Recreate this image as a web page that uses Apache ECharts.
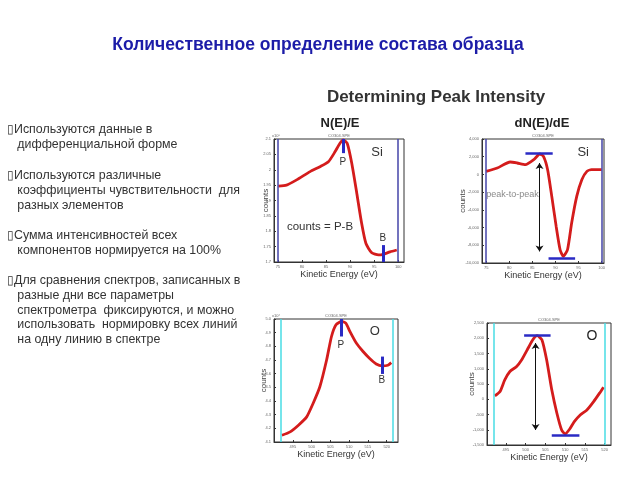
<!DOCTYPE html>
<html>
<head>
<meta charset="utf-8">
<script src="https://cdn.jsdelivr.net/npm/echarts@6/dist/echarts.min.js"></script>
<style>html,body{margin:0;padding:0;background:#fff}#c{width:640px;height:480px}</style>
</head>
<body>
<div id="c"></div>
<script>
// ---- Si N(E)/E ----
const siNE_energy = [75.1, 76.8, 78.9, 81.7, 83.75, 85.5, 86.9, 87.9, 88.6, 89.4, 90.35, 91.4, 92.4, 93.3, 94.5, 95.9, 96.9, 98.3, 99.7];
const siNE_counts = [1.947, 1.95, 1.967, 1.994, 2.01, 2.026, 2.059, 2.086, 2.097, 2.086, 2.021, 1.923, 1.826, 1.76, 1.73, 1.723, 1.725, 1.733, 1.739];
const siNE_edges = [75, 100];
const siNE_P = [88.5, 2.1, 2.054];
const siNE_B = [96.8, 1.755, 1.70];
const siNE_xTicks = [75, 80, 85, 90, 95, 100];

// ---- Si dN(E)/dE ----
const siDN_energy = [75, 77.4, 80.2, 81.7, 83.5, 85.3, 86.6, 87.4, 88.3, 89.2, 90.15, 91.0, 91.7, 92.6, 93.5, 94.6, 95.7, 96.8, 97.8, 100];
const siDN_counts = [342, 726, 1403, 1290, 1100, 1663, 2306, 2035, 534, -2480, -5868, -8500, -9250, -8500, -5480, -2480, -595, 342, 534, 534];
const siDN_edges = [75, 100];
const siDN_peakBar = [83.5, 89.4, 2420];
const siDN_valleyBar = [88.5, 94.25, -9435];
const siDN_arrow = [86.55, 1290, -8690];
const siDN_xTicks = [75, 80, 85, 90, 95, 100];

// ---- O N(E)/E ----
const oNE_energy = [492.1, 494.3, 496.5, 498.7, 500.4, 502.2, 504.0, 505.3, 506.5, 508.0, 509.1, 510.2, 511.9, 513.7, 515.4, 517.2, 518.8, 520.3, 521.2];
const oNE_counts = [4.149, 4.174, 4.223, 4.284, 4.382, 4.504, 4.70, 4.872, 4.958, 4.982, 4.97, 4.909, 4.824, 4.762, 4.713, 4.671, 4.657, 4.662, 4.681];
const oNE_edges = [491.8, 521.5];
const oNE_P = [507.8, 5.0, 4.872];
const oNE_B = [518.7, 4.725, 4.598];
const oNE_xTicks = [495, 500, 505, 510, 515, 520];

// ---- O dN(E)/dE ----
const oDN_energy = [492.2, 493.5, 494.7, 496.0, 497.7, 499.0, 500.4, 501.8, 502.9, 504.1, 505.3, 506.6, 507.9, 509.1, 510.0, 511.1, 512.3, 513.8, 515.5, 517.2, 518.7, 519.7];
const oDN_counts = [110, 252, 636, 910, 1074, 1294, 1622, 1951, 2083, 1951, 1294, 308, -458, -1007, -1138, -984, -734, -514, -350, -77, 200, 396];
const oDN_edges = [492.0, 520.1];
const oDN_peakBar = [499.6, 506.3, 2083];
const oDN_valleyBar = [506.6, 513.6, -1170];
const oDN_arrow = [502.5, 1843, -1007];
const oDN_xTicks = [495, 500, 505, 510, 515, 520];

const bullets = [
  '\u25AFИспользуются данные в\n   дифференциальной форме',
  '\u25AFИспользуются различные\n   коэффициенты чувствительности  для\n   разных элементов',
  '\u25AFСумма интенсивностей всех\n   компонентов нормируется на 100%',
  '\u25AFДля сравнения спектров, записанных в\n   разные дни все параметры\n   спектрометра  фиксируются, и можно\n   использовать  нормировку всех линий\n   на одну линию в спектре'
];

const FONT = '"Liberation Sans", Arial, sans-serif';
const RED = '#d41c1c';
const NAVY = '#4444a8';
const CYAN = '#48dce4';
const MARK = '#2a2ac4';

function zip(a, b) { return a.map((v, i) => [v, b[i]]); }

function xAx(i, min, max, ticks, gap) {
  return {
    type: 'value', gridIndex: i, min: min, max: max,
    axisLine: { show: true, onZero: false, lineStyle: { color: '#333', width: 1 } },
    axisTick: { show: true, inside: true, length: 2, customValues: ticks, lineStyle: { color: '#333' } },
    axisLabel: { fontSize: 4, color: '#666', margin: 3, customValues: ticks, fontFamily: FONT },
    splitLine: { show: false },
    name: 'Kinetic Energy (eV)', nameLocation: 'middle', nameGap: gap,
    nameTextStyle: { fontSize: 9, color: '#333', fontFamily: FONT }
  };
}
function yAx(i, min, max, interval, gap, fmt) {
  return {
    type: 'value', gridIndex: i, min: min, max: max, interval: interval,
    axisLine: { show: true, onZero: false, lineStyle: { color: '#333', width: 1 } },
    axisTick: { show: true, inside: true, length: 2, lineStyle: { color: '#333' } },
    axisLabel: { fontSize: 4, color: '#666', margin: 3, fontFamily: FONT, formatter: fmt },
    splitLine: { show: false },
    name: 'counts', nameLocation: 'middle', nameGap: gap, nameRotate: 90, nameMoveOverlap: false,
    nameTextStyle: { fontSize: 8, color: '#444', fontFamily: FONT }
  };
}
function vEdge(x, color) { return { xAxis: x, lineStyle: { color: color, width: 1.5, type: 'solid' } }; }
function seg(x1, y1, x2, y2, color, w) {
  return [{ coord: [x1, y1], lineStyle: { color: color, width: w, type: 'solid' } }, { coord: [x2, y2] }];
}
function arrow(x, y1, y2) {
  return [{ coord: [x, y1], symbol: 'arrow', symbolSize: 6, lineStyle: { color: '#111', width: 1, type: 'solid' } },
          { coord: [x, y2], symbol: 'arrow', symbolSize: 6 }];
}
function txt(x, y, text, size, color) {
  return { coord: [x, y], value: text, label: { show: true, position: 'inside', formatter: text, fontSize: size, color: color || '#333', fontFamily: FONT } };
}
function curve(i, data, lines, points) {
  return {
    type: 'line', xAxisIndex: i, yAxisIndex: i, data: data, showSymbol: false, smooth: 0.2,
    lineStyle: { color: RED, width: 2.8 }, z: 3,
    markLine: { silent: true, symbol: 'none', label: { show: false }, animation: false, data: lines },
    markPoint: { silent: true, symbol: 'circle', symbolSize: 1, itemStyle: { color: 'rgba(0,0,0,0)' }, animation: false, data: points }
  };
}

const option = {
  animation: false,
  backgroundColor: '#fff',
  grid: [
    { left: 274, top: 139, width: 130, height: 123, show: true, borderColor: '#333', borderWidth: 1 },
    { left: 482, top: 139, width: 122, height: 124, show: true, borderColor: '#333', borderWidth: 1 },
    { left: 274, top: 319, width: 124, height: 123, show: true, borderColor: '#333', borderWidth: 1 },
    { left: 487, top: 323, width: 124, height: 122, show: true, borderColor: '#333', borderWidth: 1 }
  ],
  xAxis: [
    xAx(0, 74.2, 101.2, siNE_xTicks, 6.5),
    xAx(1, 74.1, 100.5, siDN_xTicks, 6),
    xAx(2, 490, 523, oNE_xTicks, 6.5),
    xAx(3, 490.2, 521.6, oDN_xTicks, 7)
  ],
  yAxis: [
    yAx(0, 1.7, 2.1, 0.05, 4, v => (+v.toFixed(2)).toString()),
    yAx(1, -10000, 4000, 2000, 15, null),
    yAx(2, 4.1, 5.0, 0.1, 6, v => v.toFixed(1)),
    yAx(3, -1500, 2500, 500, 11, null)
  ],
  series: [
    curve(0, zip(siNE_energy, siNE_counts), [
      vEdge(siNE_edges[0], NAVY), vEdge(siNE_edges[1], NAVY),
      seg(siNE_P[0], siNE_P[1], siNE_P[0], siNE_P[2], MARK, 3),
      seg(siNE_B[0], siNE_B[1], siNE_B[0], siNE_B[2], MARK, 3)
    ], [
      txt(88.5, 2.026, 'P', 10), txt(96.8, 1.778, 'B', 10),
      txt(95.6, 2.055, 'Si', 13), txt(83.75, 1.815, 'counts = P-B', 11.5)
    ]),
    curve(1, zip(siDN_energy, siDN_counts), [
      vEdge(siDN_edges[0], NAVY), vEdge(siDN_edges[1], NAVY),
      seg(siDN_peakBar[0], siDN_peakBar[2], siDN_peakBar[1], siDN_peakBar[2], MARK, 2.5),
      seg(siDN_valleyBar[0], siDN_valleyBar[2], siDN_valleyBar[1], siDN_valleyBar[2], MARK, 2.5),
      arrow(siDN_arrow[0], siDN_arrow[1], siDN_arrow[2])
    ], [
      txt(96.0, 2487, 'Si', 13), txt(80.7, -2289, 'peak-to-peak', 9, '#8a8a8a')
    ]),
    curve(2, zip(oNE_energy, oNE_counts), [
      vEdge(oNE_edges[0], CYAN), vEdge(oNE_edges[1], CYAN),
      seg(oNE_P[0], oNE_P[1], oNE_P[0], oNE_P[2], MARK, 3),
      seg(oNE_B[0], oNE_B[1], oNE_B[0], oNE_B[2], MARK, 3)
    ], [
      txt(507.8, 4.811, 'P', 10), txt(518.7, 4.549, 'B', 10), txt(516.8, 4.909, 'O', 13)
    ]),
    curve(3, zip(oDN_energy, oDN_counts), [
      vEdge(oDN_edges[0], CYAN), vEdge(oDN_edges[1], CYAN),
      seg(oDN_peakBar[0], oDN_peakBar[2], oDN_peakBar[1], oDN_peakBar[2], MARK, 2.5),
      seg(oDN_valleyBar[0], oDN_valleyBar[2], oDN_valleyBar[1], oDN_valleyBar[2], MARK, 2.5),
      arrow(oDN_arrow[0], oDN_arrow[1], oDN_arrow[2])
    ], [
      txt(516.75, 2060, 'O', 14, '#222')
    ])
  ],
  graphic: [
    { type: 'text', x: 318, y: 45, style: { text: 'Количественное определение состава образца', font: 'bold 17.5px ' + FONT, fill: '#1c1ca8', align: 'center', verticalAlign: 'middle' } },
    { type: 'text', x: 436, y: 97, style: { text: 'Determining Peak Intensity', font: 'bold 17px ' + FONT, fill: '#333', align: 'center', verticalAlign: 'middle' } },
    { type: 'text', x: 340, y: 123, style: { text: 'N(E)/E', font: 'bold 13px ' + FONT, fill: '#222', align: 'center', verticalAlign: 'middle' } },
    { type: 'text', x: 542, y: 123, style: { text: 'dN(E)/dE', font: 'bold 13px ' + FONT, fill: '#222', align: 'center', verticalAlign: 'middle' } },
    { type: 'text', x: 339, y: 136, style: { text: 'CO304.SPE', font: '4px ' + FONT, fill: '#666', align: 'center', verticalAlign: 'middle' } },
    { type: 'text', x: 543, y: 136, style: { text: 'CO304.SPE', font: '4px ' + FONT, fill: '#666', align: 'center', verticalAlign: 'middle' } },
    { type: 'text', x: 336, y: 316, style: { text: 'CO304.SPE', font: '4px ' + FONT, fill: '#666', align: 'center', verticalAlign: 'middle' } },
    { type: 'text', x: 549, y: 320, style: { text: 'CO304.SPE', font: '4px ' + FONT, fill: '#666', align: 'center', verticalAlign: 'middle' } },
    { type: 'text', x: 276, y: 136, style: { text: 'x10⁵', font: '4px ' + FONT, fill: '#666', align: 'center', verticalAlign: 'middle' } },
    { type: 'text', x: 276, y: 316, style: { text: 'x10⁴', font: '4px ' + FONT, fill: '#666', align: 'center', verticalAlign: 'middle' } },
    { type: 'text', x: 7, y: 122.7, style: { text: bullets[0], font: '12.4px ' + FONT, fill: '#333', lineHeight: 14.6, align: 'left', verticalAlign: 'top' } },
    { type: 'text', x: 7, y: 168.7, style: { text: bullets[1], font: '12.4px ' + FONT, fill: '#333', lineHeight: 14.6, align: 'left', verticalAlign: 'top' } },
    { type: 'text', x: 7, y: 228.7, style: { text: bullets[2], font: '12.4px ' + FONT, fill: '#333', lineHeight: 14.6, align: 'left', verticalAlign: 'top' } },
    { type: 'text', x: 7, y: 273.7, style: { text: bullets[3], font: '12.4px ' + FONT, fill: '#333', lineHeight: 14.6, align: 'left', verticalAlign: 'top' } }
  ]
};

const chart = echarts.init(document.getElementById('c'), null, { renderer: 'canvas' });
chart.setOption(option);
</script>
</body>
</html>
